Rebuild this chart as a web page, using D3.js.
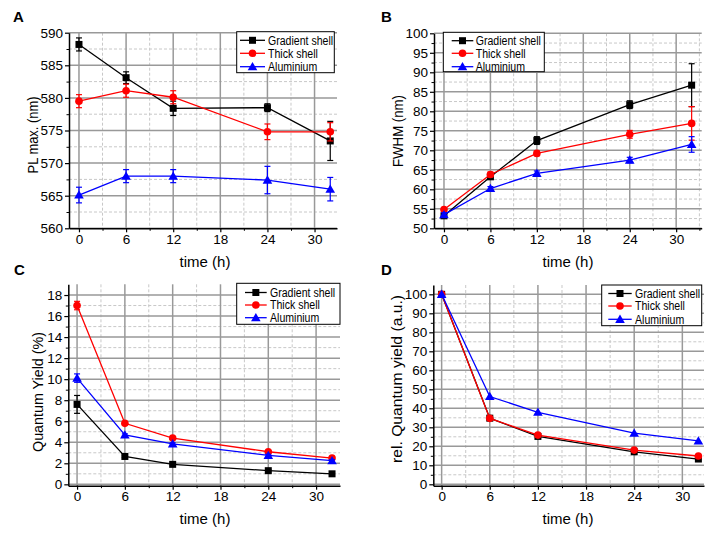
<!DOCTYPE html>
<html>
<head>
<meta charset="utf-8">
<script src="https://cdn.jsdelivr.net/npm/d3@7"></script>
<style>
  body { margin: 0; background: #fff; }
  svg { display: block; font-family: Arial, "Liberation Sans", sans-serif; }
</style>
</head>
<body>
<svg id="chart" width="709" height="533"></svg>
<script>
// ---------------- DATA ----------------
const times = [0, 6, 12, 24, 32];
const seriesNames = ["Gradient shell", "Thick shell", "Aluminium"];
const seriesColors = ["#000000", "#ff0000", "#0000ff"];
const seriesSymbols = ["square", "circle", "triangle"];
const xTickValues = [0, 6, 12, 18, 24, 30];

// A: PL max (nm)
const plGradient = [588.2, 583.1, 578.4, 578.5, 573.4];
const plGradientErr = [1.0, 0.9, 1.1, 0.6, 3.0];
const plThick = [579.5, 581.1, 580.1, 574.8, 574.8];
const plThickErr = [1.0, 1.0, 1.0, 1.2, 1.4];
const plAlu = [565.1, 568.0, 568.0, 567.4, 566.0];
const plAluErr = [1.2, 1.0, 1.0, 2.1, 1.8];

// B: FWHM (nm)
const fwGradient = [53.2, 63.2, 72.5, 81.7, 86.7];
const fwGradientErr = [0.6, 0.6, 1.0, 1.0, 5.5];
const fwThick = [54.8, 63.8, 69.2, 74.1, 76.9];
const fwThickErr = [0.5, 0.6, 0.6, 1.0, 4.3];
const fwAlu = [53.5, 60.2, 64.1, 67.5, 71.5];
const fwAluErr = [0.5, 0.5, 0.6, 0.7, 2.0];

// C: Quantum Yield (%)
const qyGradient = [7.6, 2.65, 1.9, 1.3, 1.0];
const qyGradientErr = [0.85, 0.1, 0.1, 0.1, 0.1];
const qyThick = [17.0, 5.8, 4.4, 3.1, 2.5];
const qyThickErr = [0.4, 0.1, 0.1, 0.1, 0.1];
const qyAlu = [10.1, 4.7, 3.85, 2.75, 2.25];
const qyAluErr = [0.4, 0.1, 0.1, 0.1, 0.1];

// D: rel. Quantum yield (a.u.)
const relGradient = [100, 34.8, 25.2, 17.1, 13.3];
const relThick = [100, 34.7, 25.9, 18.0, 14.9];
const relAlu = [100, 46.2, 37.9, 26.9, 22.8];

// ---------------- LAYOUT ----------------
const panels = [
  { letter: "A", letterPos: [13, 22], ylabel: "PL max. (nm)", ylabelPos: [33, 135], ylabelLen: 77,
    left: 69, right: 337, top: 32.7, bottom: 228.3, xdom: [-1.27, 32.86], ydom: [560, 590],
    yTicks: d3.range(560, 591, 5), yMinor: d3.range(562.5, 590, 5),
    xlabelPos: [205, 267],
    series: [[plGradient, plGradientErr], [plThick, plThickErr], [plAlu, plAluErr]],
    legend: { x0: 236.7, x1: 334.3, y0: 31.7, y1: 72.7, rows: [40.3, 53.3, 66.7], l0: 240, l1: 265, tx: 268 } },
  { letter: "B", letterPos: [381, 22], ylabel: "FWHM (nm)", ylabelPos: [398, 131], ylabelLen: 72,
    left: 434, right: 701.7, top: 33.3, bottom: 228.3, xdom: [-1.29, 33.3], ydom: [50, 100],
    yTicks: d3.range(50, 101, 5), yMinor: d3.range(52.5, 100, 5),
    xlabelPos: [568, 267],
    series: [[fwGradient, fwGradientErr], [fwThick, fwThickErr], [fwAlu, fwAluErr]],
    legend: { x0: 443.3, x1: 544.3, y0: 32.3, y1: 71.7, rows: [40.7, 53.3, 66.7], l0: 451.7, l1: 473.3, tx: 475.7 } },
  { letter: "C", letterPos: [14, 275], ylabel: "Quantum Yield (%)", ylabelPos: [38, 392], ylabelLen: 120,
    left: 68.3, right: 340, top: 284.3, bottom: 485.7, xdom: [-1.10, 33.0], ydom: [-0.13, 19.02],
    yTicks: d3.range(0, 19, 2), yMinor: d3.range(1, 19, 2),
    xlabelPos: [205, 523.5],
    series: [[qyGradient, qyGradientErr], [qyThick, qyThickErr], [qyAlu, qyAluErr]],
    legend: { x0: 236.7, x1: 340, y0: 283.3, y1: 324.3, rows: [292.5, 305, 317.7], l0: 245, l1: 266.7, tx: 270 } },
  { letter: "D", letterPos: [381, 275], ylabel: "rel. Quantum yield (a.u.)", ylabelPos: [397, 379], ylabelLen: 168,
    left: 433.3, right: 704, top: 285, bottom: 485.7, xdom: [-1.04, 32.7], ydom: [-0.74, 104.9],
    yTicks: d3.range(0, 101, 10), yMinor: d3.range(5, 101, 10),
    xlabelPos: [568, 523.5],
    series: [[relGradient, null], [relThick, null], [relAlu, null]],
    legend: { x0: 601.7, x1: 701.7, y0: 285, y1: 325.7, rows: [293.5, 306, 319.3], l0: 608.3, l1: 631.7, tx: 635 } }
];

const svg = d3.select("#chart");

function drawSymbol(g, kind, cx, cy, color) {
  if (kind === "square") {
    g.append("rect").attr("x", cx - 3.5).attr("y", cy - 3.5).attr("width", 7).attr("height", 7).attr("fill", color);
  } else if (kind === "circle") {
    g.append("circle").attr("cx", cx).attr("cy", cy).attr("r", 3.8).attr("fill", color);
  } else {
    g.append("path").attr("d", d3.symbol(d3.symbolTriangle, 40)()).attr("transform", `translate(${cx},${cy + 0.8})`).attr("fill", color);
  }
}

panels.forEach(p => {
  const x = d3.scaleLinear().domain(p.xdom).range([p.left, p.right]);
  const y = d3.scaleLinear().domain(p.ydom).range([p.bottom, p.top]);
  const g = svg.append("g");

  // minor grid (dashed)
  const xMinor = d3.range(3, p.xdom[1], 6);
  g.selectAll(null).data(xMinor).join("line")
    .attr("x1", d => x(d)).attr("x2", d => x(d)).attr("y1", p.top).attr("y2", p.bottom)
    .attr("stroke", "#c8c8c8").attr("stroke-width", 1).attr("stroke-dasharray", "3,2");
  g.selectAll(null).data(p.yMinor).join("line")
    .attr("x1", p.left).attr("x2", p.right).attr("y1", d => y(d)).attr("y2", d => y(d))
    .attr("stroke", "#c8c8c8").attr("stroke-width", 1).attr("stroke-dasharray", "3,2");
  // major grid
  g.selectAll(null).data(xTickValues).join("line")
    .attr("x1", d => x(d)).attr("x2", d => x(d)).attr("y1", p.top).attr("y2", p.bottom)
    .attr("stroke", "#999").attr("stroke-width", 1.5);
  g.selectAll(null).data(p.yTicks).join("line")
    .attr("x1", p.left).attr("x2", p.right).attr("y1", d => y(d)).attr("y2", d => y(d))
    .attr("stroke", "#999").attr("stroke-width", 1.5);

  // axes
  const xAxis = d3.axisBottom(x).tickValues(xTickValues).tickSize(4).tickPadding(2).tickSizeOuter(0);
  const xa = g.append("g").attr("transform", `translate(0,${p.bottom})`).call(xAxis);
  const xMinorAxis = d3.axisBottom(x).tickValues(xMinor).tickSize(2.5).tickFormat("").tickSizeOuter(0);
  g.append("g").attr("transform", `translate(0,${p.bottom})`).call(xMinorAxis).select(".domain").remove();
  const yAxis = d3.axisLeft(y).tickValues(p.yTicks).tickSize(4).tickPadding(2).tickSizeOuter(0);
  const ya = g.append("g").attr("transform", `translate(${p.left},0)`).call(yAxis);
  const yMinorAxis = d3.axisLeft(y).tickValues(p.yMinor).tickSize(2.5).tickFormat("").tickSizeOuter(0);
  g.append("g").attr("transform", `translate(${p.left},0)`).call(yMinorAxis).select(".domain").remove();
  [xa, ya].forEach(a => {
    a.select(".domain").attr("stroke", "#000").attr("stroke-width", 1.5);
    a.selectAll(".tick line").attr("stroke", "#000").attr("stroke-width", 1.2);
    a.selectAll(".tick text").attr("font-size", 13.5).attr("fill", "#000").attr("font-family", "Arial, 'Liberation Sans', sans-serif");
  });
  g.selectAll(".tick line").attr("stroke", "#000");

  // series
  p.series.forEach(([vals, errs], i) => {
    const color = seriesColors[i];
    const pts = times.map((t, k) => [t, vals[k], errs ? errs[k] : 0]);
    g.append("path").datum(pts)
      .attr("d", d3.line().x(d => x(d[0])).y(d => y(d[1])))
      .attr("fill", "none").attr("stroke", color).attr("stroke-width", 1.3);
    if (errs) {
      pts.forEach(d => {
        const cx = x(d[0]), y1 = y(d[1] + d[2]), y2 = y(d[1] - d[2]);
        g.append("line").attr("x1", cx).attr("x2", cx).attr("y1", y1).attr("y2", y2).attr("stroke", color).attr("stroke-width", 1.2);
        g.append("line").attr("x1", cx - 3).attr("x2", cx + 3).attr("y1", y1).attr("y2", y1).attr("stroke", color).attr("stroke-width", 1.2);
        g.append("line").attr("x1", cx - 3).attr("x2", cx + 3).attr("y1", y2).attr("y2", y2).attr("stroke", color).attr("stroke-width", 1.2);
      });
    }
    pts.forEach(d => drawSymbol(g, seriesSymbols[i], x(d[0]), y(d[1]), color));
  });

  // legend
  const L = p.legend;
  g.append("rect").attr("x", L.x0).attr("y", L.y0).attr("width", L.x1 - L.x0).attr("height", L.y1 - L.y0)
    .attr("fill", "#fff").attr("stroke", "#000").attr("stroke-width", 1);
  seriesNames.forEach((name, i) => {
    const ry = L.rows[i];
    g.append("line").attr("x1", L.l0).attr("x2", L.l1).attr("y1", ry).attr("y2", ry)
      .attr("stroke", seriesColors[i]).attr("stroke-width", 1.3);
    drawSymbol(g, seriesSymbols[i], (L.l0 + L.l1) / 2, ry, seriesColors[i]);
    const t = g.append("text").attr("x", L.tx).attr("y", ry).attr("dy", "0.36em")
      .attr("font-size", 12).attr("fill", "#000").text(name);
    const w = t.node().getComputedTextLength();
    const target = w * 11 / 12 * 0.96;
    t.attr("textLength", target).attr("lengthAdjust", "spacingAndGlyphs");
  });

  // labels
  g.append("text").attr("x", p.xlabelPos[0]).attr("y", p.xlabelPos[1]).attr("text-anchor", "middle")
    .attr("font-size", 15).attr("fill", "#000").text("time (h)");
  const yl = g.append("text").attr("text-anchor", "middle").attr("dy", "0.36em")
    .attr("font-size", 15).attr("fill", "#000")
    .attr("transform", `translate(${p.ylabelPos[0]},${p.ylabelPos[1]}) rotate(-90)`)
    .text(p.ylabel);
  const natural = yl.node().getComputedTextLength();
  yl.attr("transform", `translate(${p.ylabelPos[0]},${p.ylabelPos[1]}) rotate(-90) scale(${p.ylabelLen / natural},1)`);
  g.append("text").attr("x", p.letterPos[0]).attr("y", p.letterPos[1])
    .attr("font-size", 15).attr("font-weight", "bold").attr("fill", "#000").text(p.letter);
});
</script>
</body>
</html>
